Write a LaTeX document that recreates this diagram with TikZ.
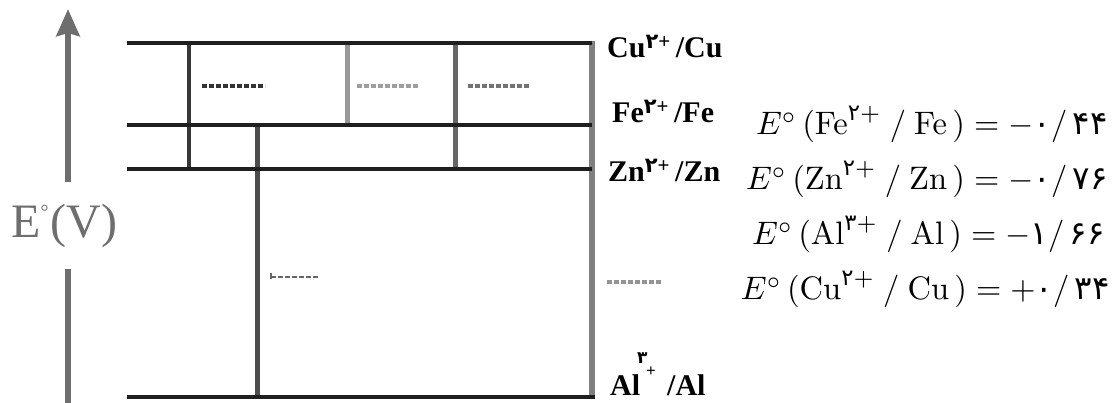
\documentclass[tikz,border=0pt]{standalone}
\usepackage{amsmath}
\usepackage{graphicx}
\usepackage[no-math]{fontspec}
\setmainfont{Liberation Serif}
\newfontfamily\fa[Script=Arabic]{DejaVu Sans}
\usetikzlibrary{arrows.meta}
\definecolor{axisgray}{HTML}{6E6E6E}
\tikzset{
  level/.style={line width=3.8pt, color=black!88},
  vbar/.style={line width=#1},
  dashmark/.style={line width=3.5pt, dash pattern=on 5pt off 2pt},
  lab/.style={font=\fontsize{30}{32}\selectfont\bfseries, inner sep=0pt, anchor=base west},
  eq/.style={font=\normalsize, inner sep=0pt, anchor=base east},
  tiny/.style={inner sep=0pt, text height=9pt, text depth=0pt},
}
\newcommand{\fd}[1]{\text{\fa #1}}
\newcommand{\eqbox}[1]{\scalebox{3.25}{$#1$}}
\newcommand{\lsup}{\textsuperscript{{\fa ۲}+}}
\begin{document}
\begin{tikzpicture}[x=1pt,y=-1pt]
\useasboundingbox (0,0) rectangle (1120,403);
\fill[white] (0,0) rectangle (1120,403);
% axis
\coordinate (ab) at (68,182);
\coordinate (at) at (68,9);
\coordinate (lb1) at (68,269);
\coordinate (lb2) at (68,403);
\draw[line width=6.5pt, axisgray, -{Stealth[length=27pt,width=23pt,inset=3pt]}] (ab) -- (at);
\draw[line width=6.5pt, axisgray] (lb1) -- (lb2);
\node[font=\fontsize{48}{50}\selectfont, text=axisgray, inner sep=0pt, anchor=base west] (ev) at (11,238) {E\raisebox{0.4em}{\fontsize{20}{20}\selectfont°}\hspace{2pt}(V)};
% level coordinates
\coordinate (cuL) at (127,43);  \coordinate (cuR) at (592,43);
\coordinate (feL) at (127,125); \coordinate (feR) at (592,125);
\coordinate (znL) at (127,169); \coordinate (znR) at (592,169);
\coordinate (alL) at (127,397); \coordinate (alR) at (595,397);
% vertical bars
\draw[vbar=4.5pt, black!78] (189,43) coordinate (v1t) -- (189,169) coordinate (v1b);
\draw[vbar=5pt, black!40] (347,43) coordinate (v2t) -- (347,125) coordinate (v2b);
\draw[vbar=5pt, black!60] (455,43) coordinate (v3t) -- (455,169) coordinate (v3b);
\draw[vbar=5pt, black!70] (257,125) coordinate (v4t) -- (257,397) coordinate (v4b);
\draw[vbar=6pt, black!50] (592,41) coordinate (v5t) -- (592,399) coordinate (v5b);
% levels
\draw[level] (cuL) -- (cuR);
\draw[level] (feL) -- (feR);
\draw[level] (znL) -- (znR);
\draw[level] (alL) -- (alR);
% dash marks
\draw[dashmark, black!80] (202,86) coordinate (d1a) -- (265,86) coordinate (d1b);
\draw[dashmark, black!38] (357,86) coordinate (d2a) -- (418,86) coordinate (d2b);
\draw[dashmark, black!55] (468,86) coordinate (d3a) -- (530,86) coordinate (d3b);
\draw[dashmark, black!42] (607,282) coordinate (d4a) -- (662,282) coordinate (d4b);
\draw[line width=2.2pt, dash pattern=on 5pt off 2pt, black!60] (271,277) coordinate (d5a) -- (318,277) coordinate (d5b);
\draw[line width=1.5pt, black!60] (271,273) coordinate (t5a) -- (271,279) coordinate (t5b);
% labels
\node[lab] (cu) at (607,58) {Cu\lsup\,/Cu};
\node[lab] (fe) at (612,123) {Fe\lsup\,/Fe};
\node[lab] (zn) at (608,182) {Zn\lsup\,/Zn};
\node[lab] (al) at (610,396) {Al};
\node[lab] (al2) at (667,396) {/Al};
\node[tiny, font=\fontsize{17}{17}\selectfont\fa\bfseries, anchor=base west] (al3) at (637,364) {۳};
\node[tiny, font=\fontsize{17}{17}\selectfont\bfseries, anchor=base west] (alp) at (646,377) {+};
% equations
\node[eq] (e1) at (1108,135) {\eqbox{E^{\circ}\,(\mathrm{Fe}^{\fd{۲}+}\ /\ \mathrm{Fe}\,)=-\fd{۰}/\,\fd{۴۴}}};
\node[eq] (e2) at (1108,190) {\eqbox{E^{\circ}\,(\mathrm{Zn}^{\fd{۲}+}\ /\ \mathrm{Zn}\,)=-\fd{۰}/\,\fd{۷۶}}};
\node[eq] (e3) at (1105,245) {\eqbox{E^{\circ}\,(\mathrm{Al}^{\fd{۳}+}\ /\ \mathrm{Al}\,)=-\fd{۱}/\,\fd{۶۶}}};
\node[eq] (e4) at (1110,300) {\eqbox{E^{\circ}\,(\mathrm{Cu}^{\fd{۲}+}\ /\ \mathrm{Cu}\,)=+\fd{۰}/\,\fd{۳۴}}};
\end{tikzpicture}
\end{document}
